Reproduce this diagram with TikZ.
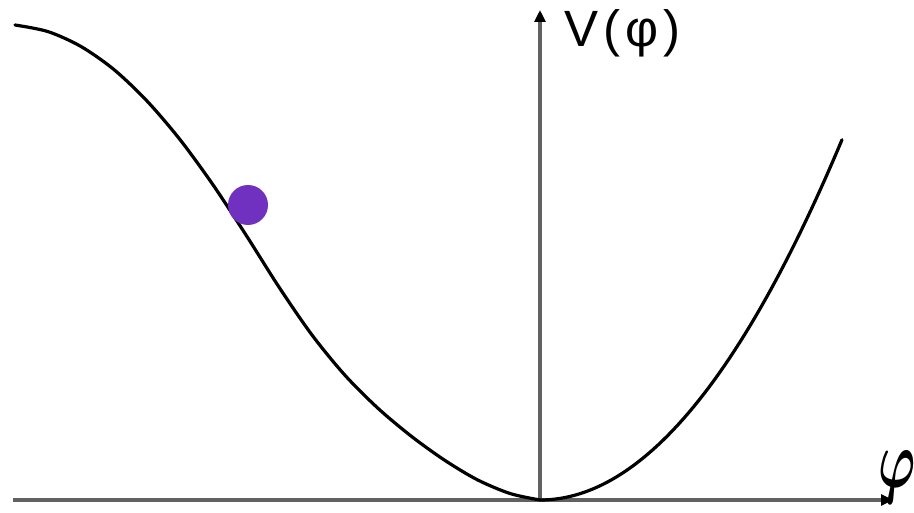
\documentclass[tikz,border=0pt]{standalone}
\usepackage{bm}
\usepackage{fontspec}
\setmainfont{Liberation Sans}
\usetikzlibrary{arrows.meta}
\definecolor{ballviolet}{RGB}{112,48,192}
\begin{document}
\begin{tikzpicture}[x=1pt,y=-1pt,
  axisline/.style={line width=3.6pt, draw=black!62, -{Triangle[length=12pt,width=11pt,color=black]}},
  curveline/.style={line width=3.2pt, black, line cap=round, line join=round},
  ballnode/.style={circle, fill=ballviolet, inner sep=0pt, minimum size=40pt},
  vlabel/.style={inner sep=0pt, anchor=base west, font=\fontsize{51}{54}\selectfont\addfontfeature{LetterSpace=10}},
  philabel/.style={inner sep=0pt}]
\useasboundingbox[fill=white] (0,0) rectangle (914,513);
\coordinate (xstart) at (13,500);
\coordinate (xend) at (893,500);
\coordinate (yorig) at (540,502);
\coordinate (ytop) at (540,10);
\draw[axisline] (xstart) -- (xend);
\draw[axisline] (yorig) -- (ytop);
\draw[curveline] plot[smooth] coordinates {
  (15,25) (48,31.6) (81,46.5) (114,69.6) (147,101) (180,139.6) (213,184.8)
  (246,235) (279,287.1) (312,335) (345,375.3) (378,408.3) (411,436)
  (444,459.8) (477,479.6) (510,493.5) (540,500)}
  -- plot[domain=540:842, samples=60] (\x, {500-(0.06285*(\x-540))^2});
\node[ballnode] (ball) at (248,205) {};
\node[vlabel] (vphi) at (564,47) {V(φ)};
\node[philabel] (phi) at (897,477) {\scalebox{5}[8.2]{$\bm{\varphi}$}};
\end{tikzpicture}
\end{document}
